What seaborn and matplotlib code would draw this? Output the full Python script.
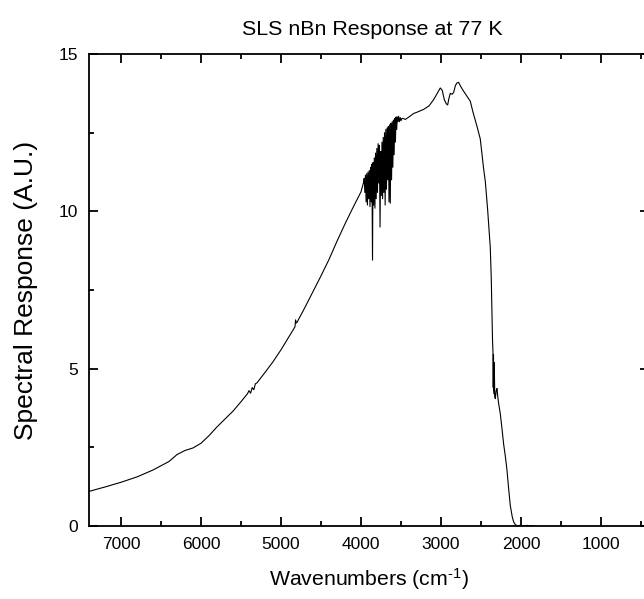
import matplotlib
matplotlib.use("Agg")
import matplotlib.pyplot as plt
from matplotlib.ticker import MultipleLocator
import seaborn as sns
import pandas as pd

# ---- data ----
wavenumber = [
    7400, 7200, 7000, 6800, 6600, 6400, 6300, 6200, 6100, 6000,
    5900, 5800, 5700, 5600, 5500, 5420, 5400, 5380, 5360, 5340, 5320, 5300,
    5200, 5100, 5000, 4900, 4825, 4818, 4810, 4800, 4700, 4600, 4500, 4400,
    4300, 4200, 4100, 4000, 3968,
    3960, 3952, 3944, 3936, 3928, 3920, 3912, 3904, 3896, 3888,
    3880, 3872, 3864, 3856, 3850, 3842, 3834, 3826, 3818, 3810,
    3802, 3794, 3786, 3778, 3770, 3762, 3754, 3746, 3738, 3730,
    3722, 3714, 3706, 3698, 3690, 3682, 3674, 3666, 3658, 3650,
    3642, 3634, 3626, 3618, 3610, 3602, 3594, 3586, 3578, 3570,
    3562, 3554, 3546, 3538, 3530, 3520, 3510, 3500, 3490, 3470,
    3446, 3400, 3342, 3300, 3217, 3150, 3092, 3040, 3009, 2985,
    2959, 2935, 2917, 2900, 2884, 2862, 2842, 2820, 2800, 2780,
    2760, 2738, 2700, 2660, 2634, 2600, 2550, 2509, 2467, 2446,
    2417, 2400, 2384, 2372, 2363, 2356, 2350, 2347, 2344, 2341,
    2338, 2335, 2332, 2328, 2321, 2310, 2300, 2290, 2280, 2259,
    2240, 2217, 2195, 2175, 2155, 2134, 2110, 2092, 2070, 2050,
    2020, 2000, 1970, 1950, 1920, 1900, 1870, 1840,
]
response = [
    1.10, 1.24, 1.39, 1.56, 1.78, 2.05, 2.27, 2.40, 2.48, 2.63,
    2.87, 3.15, 3.40, 3.65, 3.95, 4.20, 4.30, 4.22, 4.40, 4.33, 4.52, 4.55,
    4.88, 5.22, 5.60, 6.02, 6.33, 6.55, 6.45, 6.47, 6.95, 7.45, 7.95, 8.47,
    9.05, 9.60, 10.12, 10.62, 10.92,
    11.05, 10.60, 11.15, 10.30, 11.20, 10.20, 11.25, 10.40, 11.30, 10.15,
    11.40, 10.30, 11.50, 8.45, 11.55, 10.20, 11.70, 10.10, 11.85, 10.40,
    12.00, 10.60, 12.15, 10.90, 12.10, 9.50, 11.90, 10.50, 12.20, 10.40,
    12.35, 10.60, 12.50, 10.20, 12.60, 10.70, 12.65, 11.00, 12.70, 10.30,
    12.75, 10.26, 12.80, 11.00, 12.85, 11.40, 12.90, 11.80, 12.95, 12.20,
    13.00, 12.60, 13.00, 12.85, 13.02, 12.85, 12.98, 12.88, 12.95, 12.95,
    12.92, 13.00, 13.11, 13.15, 13.24, 13.35, 13.55, 13.78, 13.92, 13.85,
    13.55, 13.42, 13.38, 13.60, 13.75, 13.72, 13.78, 14.00, 14.08, 14.10,
    14.00, 13.90, 13.75, 13.60, 13.50, 13.15, 12.70, 12.30, 11.35, 10.95,
    10.05, 9.45, 8.85, 7.90, 6.75, 5.90, 5.50, 4.40, 5.45, 4.30,
    5.20, 4.20, 4.80, 4.10, 4.05, 4.30, 4.37, 4.10, 3.90, 3.57,
    3.15, 2.60, 2.20, 1.77, 1.20, 0.65, 0.30, 0.13, 0.04, 0.01,
    0.02, 0.00, 0.01, 0.00, 0.02, 0.00, 0.01, 0.00,
]

x_major = [7000, 6000, 5000, 4000, 3000, 2000, 1000]
y_major = [0, 5, 10, 15]

df = pd.DataFrame({"Wavenumbers": wavenumber, "Response": response})

sns.set_theme(style="ticks")
plt.rcParams["font.family"] = ["Liberation Sans", "DejaVu Sans"]
plt.rcParams["mathtext.fontset"] = "custom"
plt.rcParams["mathtext.rm"] = "Liberation Sans"
plt.rcParams["mathtext.it"] = "Liberation Sans:italic"
plt.rcParams["mathtext.bf"] = "Liberation Sans:bold"
plt.rcParams["text.color"] = "black"
plt.rcParams["axes.labelcolor"] = "black"

W, H = 644, 599
fig = plt.figure(figsize=(W / 100, H / 100), dpi=100)
left, right, top, bottom = 89, 649, 54, 526
ax = fig.add_axes([left / W, 1 - bottom / H, (right - left) / W, (bottom - top) / H])

sns.lineplot(data=df, x="Wavenumbers", y="Response", ax=ax, color="black",
             linewidth=0.8, sort=False, estimator=None)

ax.set_xlim(7400, 400)
ax.set_ylim(0, 15)
ax.set_xticks(x_major)
ax.set_yticks(y_major)
ax.xaxis.set_minor_locator(MultipleLocator(500))
ax.yaxis.set_minor_locator(MultipleLocator(2.5))

for s in ax.spines.values():
    s.set_visible(True)
    s.set_linewidth(1.3)
    s.set_color("black")

ax.tick_params(which="both", direction="in", top=True, right=True,
               colors="black", width=1.3)
ax.tick_params(which="major", length=6.8)
ax.tick_params(which="minor", length=3.6)
ax.tick_params(axis="x", which="major", labelsize=12.5, pad=8)
ax.tick_params(axis="y", which="major", labelsize=12.5, pad=8)

ax.set_xlabel(r"Wavenumbers (cm$^{\text{-1}}$)", fontsize=15.3, labelpad=10,
              color="black")
ax.set_ylabel("Spectral Response (A.U.)", fontsize=19, color="black")
ax.yaxis.set_label_coords(-(left - 38) / (right - left), 0.5)
ax.set_title("SLS nBn Response at 77 K", fontsize=15.4, pad=14,
             x=(372 - left) / (right - left), color="black")

try:
    fig.savefig("out.png", dpi=100)
except Exception:
    ax.set_xlabel(r"Wavenumbers (cm$^{\mathregular{-1}}$)", fontsize=15.3,
                  labelpad=10, color="black")
    fig.savefig("out.png", dpi=100)
